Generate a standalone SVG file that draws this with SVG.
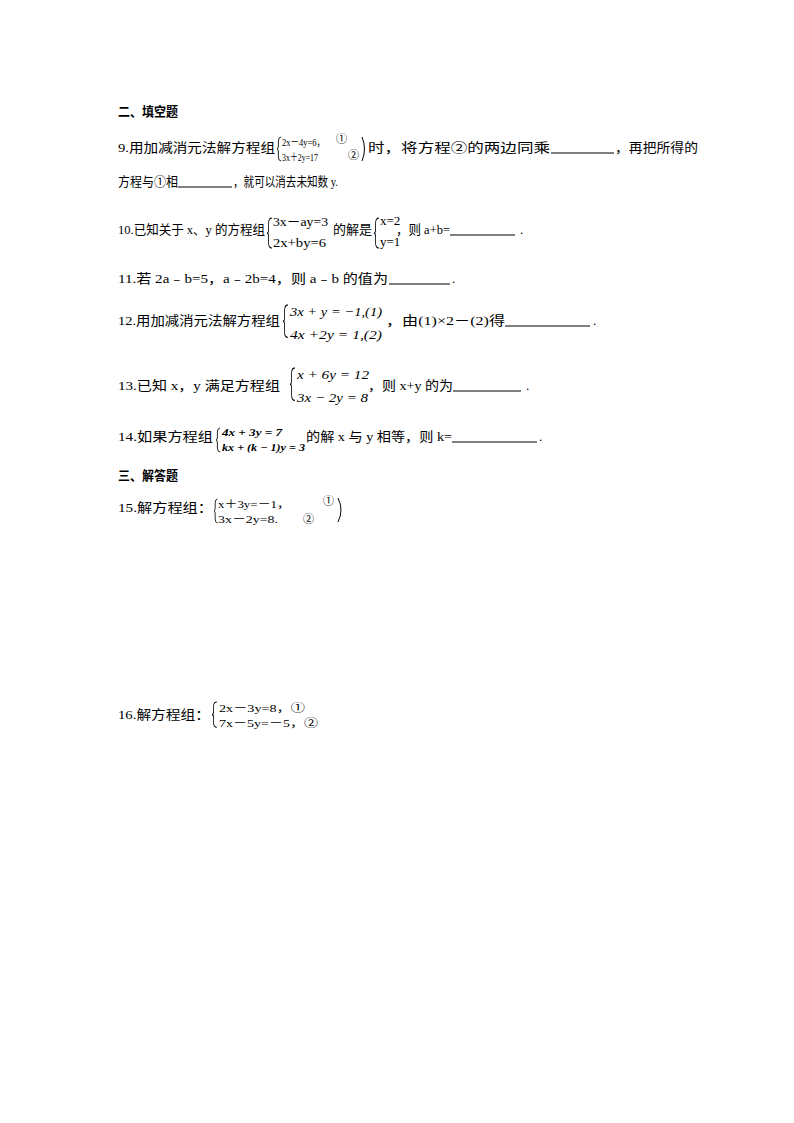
<svg xmlns="http://www.w3.org/2000/svg" width="794" height="1123" viewBox="0 0 794 1123">
<style>
text{font-family:"Liberation Serif","Noto Sans CJK SC",serif;font-size:13px;fill:#000}
.h{font-weight:bold;font-size:13px}
.s{font-size:11px}
.m{font-size:13px;font-style:italic}
.b{font-size:10px;font-weight:bold;font-style:italic}
.br{fill:none;stroke:#000;stroke-width:1}
.u{stroke:#000;stroke-width:1}
</style>
<rect width="794" height="1123" fill="#fff"/>
<defs>
<path id="brace" d="M6,0 Q2,0 2,4 L2,9 Q2,12 0,12 Q2,12 2,15 L2,20 Q2,24 6,24"/>
</defs>
<text class="h" x="118" y="116" textLength="60" lengthAdjust="spacingAndGlyphs">二、填空题</text>

<g id="q9">
<text x="118" y="152" textLength="157" lengthAdjust="spacingAndGlyphs">9.用加减消元法解方程组</text>
<use href="#brace" class="br" transform="translate(277,137) scale(0.7,1)"/>
<text class="s" x="282" y="146" textLength="43" lengthAdjust="spacingAndGlyphs">2x－4y=6，</text>
<text class="s" x="282" y="161" textLength="36" lengthAdjust="spacingAndGlyphs">3x＋2y=17</text>
<text class="s" x="336" y="143">①</text>
<text class="s" x="348" y="159">②</text>
<path class="br" d="M362,137 Q367,149 362,161"/>
<text x="368" y="152" textLength="182" lengthAdjust="spacingAndGlyphs">时，将方程②的两边同乘</text>
<line class="u" x1="551" y1="153" x2="614" y2="153"/>
<text x="615" y="152" textLength="83" lengthAdjust="spacingAndGlyphs">，再把所得的</text>
<text x="118" y="186" textLength="60" lengthAdjust="spacingAndGlyphs">方程与①相</text>
<line class="u" x1="178" y1="187" x2="232" y2="187"/>
<text x="233" y="186" textLength="105" lengthAdjust="spacingAndGlyphs">，就可以消去未知数 y.</text>
</g>

<g id="q10">
<text x="118" y="234" textLength="147" lengthAdjust="spacingAndGlyphs">10.已知关于 x、y 的方程组</text>
<use href="#brace" class="br" transform="translate(267,218) scale(0.8,1.25)"/>
<text x="273" y="226" textLength="55" lengthAdjust="spacingAndGlyphs">3x－ay=3</text>
<text x="273" y="247" textLength="53" lengthAdjust="spacingAndGlyphs">2x+by=6</text>
<text x="333" y="234" textLength="39" lengthAdjust="spacingAndGlyphs">的解是</text>
<use href="#brace" class="br" transform="translate(374,218) scale(0.8,1.25)"/>
<text x="380" y="225">x=2</text>
<text x="380" y="246">y=1</text>
<text x="396" y="234" textLength="54" lengthAdjust="spacingAndGlyphs">，则 a+b=</text>
<line class="u" x1="450" y1="235" x2="515" y2="235"/>
<text x="520" y="234">.</text>
</g>

<g id="q11">
<text x="118" y="283" textLength="270" lengthAdjust="spacingAndGlyphs">11.若 2a﹣b=5，a﹣2b=4，则 a﹣b 的值为</text>
<line class="u" x1="389" y1="284" x2="450" y2="284"/>
<text x="452" y="283">.</text>
</g>

<g id="q12">
<text x="118" y="325" textLength="162" lengthAdjust="spacingAndGlyphs">12.用加减消元法解方程组</text>
<use href="#brace" class="br" transform="translate(283,305) scale(0.8,1.35)"/>
<text class="m" x="290" y="316" textLength="92" lengthAdjust="spacingAndGlyphs">3x + y = −1,(1)</text>
<text class="m" x="290" y="339" textLength="92" lengthAdjust="spacingAndGlyphs">4x +2y = 1,(2)</text>
<text x="386" y="325" textLength="119" lengthAdjust="spacingAndGlyphs">，由(1)×2－(2)得</text>
<line class="u" x1="505" y1="326" x2="590" y2="326"/>
<text x="593" y="325">.</text>
</g>

<g id="q13">
<text x="118" y="390" textLength="162" lengthAdjust="spacingAndGlyphs">13.已知 x，y 满足方程组</text>
<use href="#brace" class="br" transform="translate(290,368) scale(0.8,1.35)"/>
<text class="m" x="297" y="379" textLength="72" lengthAdjust="spacingAndGlyphs">x + 6y = 12</text>
<text class="m" x="297" y="402" textLength="71" lengthAdjust="spacingAndGlyphs">3x − 2y = 8</text>
<text x="368" y="390" textLength="85" lengthAdjust="spacingAndGlyphs">，则 x+y 的为</text>
<line class="u" x1="453" y1="391" x2="521" y2="391"/>
<text x="526" y="390">.</text>
</g>

<g id="q14">
<text x="118" y="441" textLength="95" lengthAdjust="spacingAndGlyphs">14.如果方程组</text>
<use href="#brace" class="br" transform="translate(216,428) scale(0.7,1)"/>
<text class="b" x="222" y="436" textLength="60" lengthAdjust="spacingAndGlyphs">4x + 3y = 7</text>
<text class="b" x="222" y="451" textLength="83" lengthAdjust="spacingAndGlyphs">kx + (k − 1)y = 3</text>
<text x="306" y="441" textLength="146" lengthAdjust="spacingAndGlyphs">的解 x 与 y 相等，则 k=</text>
<line class="u" x1="452" y1="442" x2="537" y2="442"/>
<text x="539" y="441">.</text>
</g>

<text class="h" x="118" y="480" textLength="60" lengthAdjust="spacingAndGlyphs">三、解答题</text>

<g id="q15">
<text x="118" y="512" textLength="95" lengthAdjust="spacingAndGlyphs">15.解方程组：</text>
<use href="#brace" class="br" transform="translate(214,499) scale(0.6,1)"/>
<text class="s" x="218" y="508" textLength="72" lengthAdjust="spacingAndGlyphs">x＋3y=－1，</text>
<text class="s" x="218" y="523" textLength="60" lengthAdjust="spacingAndGlyphs">3x－2y=8.</text>
<text class="s" x="323" y="505">①</text>
<text class="s" x="303" y="523">②</text>
<path class="br" d="M338,498 Q344,510 338,522"/>
</g>

<g id="q16">
<text x="118" y="719" textLength="92" lengthAdjust="spacingAndGlyphs">16.解方程组：</text>
<use href="#brace" class="br" transform="translate(212,702) scale(0.8,1.05)"/>
<text class="s" x="219" y="712" textLength="86" lengthAdjust="spacingAndGlyphs">2x－3y=8，①</text>
<text class="s" x="219" y="727" textLength="99" lengthAdjust="spacingAndGlyphs">7x－5y=－5，②</text>
</g>
</svg>
